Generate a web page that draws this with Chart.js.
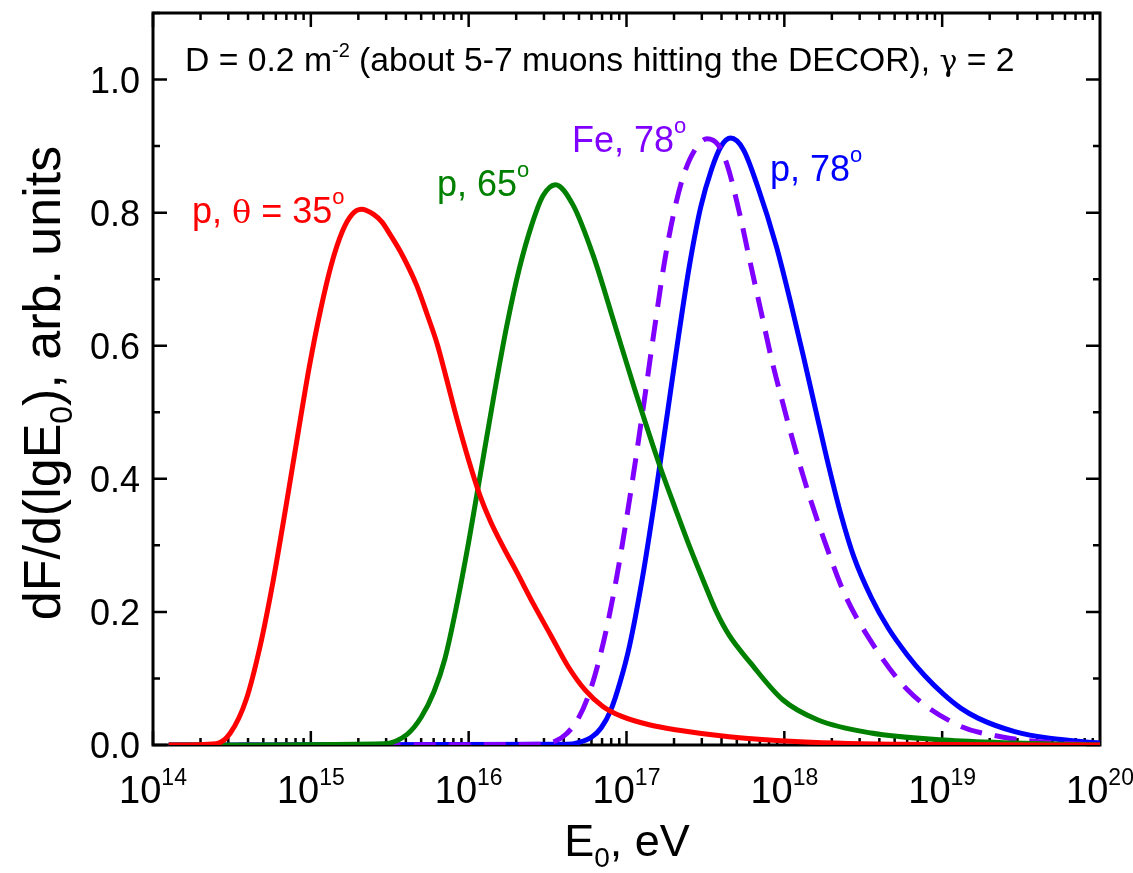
<!DOCTYPE html>
<html>
<head>
<meta charset="utf-8">
<script src="https://cdn.jsdelivr.net/npm/chart.js@4.4.1/dist/chart.umd.min.js"></script>
<style>
  html, body { margin: 0; padding: 0; background: #fff; }
  #wrap { width: 1133px; height: 873px; }
</style>
</head>
<body>
<div id="wrap"><canvas id="c" width="1133" height="873"></canvas></div>
<script>
// lg(E0) positions and dF/d(lgE0) values

// p, theta = 35 deg
const redLg = [14.10, 14.40, 14.49, 14.59, 14.68, 14.76, 14.84, 14.92, 14.99, 15.06, 15.13, 15.20, 15.26, 15.32, 15.40, 15.45, 15.50, 15.58, 15.67, 15.74, 15.80, 15.86, 15.92, 16.00, 16.07, 16.14, 16.22, 16.30, 16.41, 16.52, 16.63, 16.74, 16.85, 16.97, 17.15, 17.31, 17.65, 18.10, 18.78, 20.0];
const redY  = [0, 0.002, 0.018, 0.068, 0.150, 0.245, 0.355, 0.470, 0.568, 0.652, 0.722, 0.772, 0.797, 0.805, 0.797, 0.786, 0.768, 0.736, 0.691, 0.645, 0.603, 0.550, 0.495, 0.428, 0.376, 0.335, 0.297, 0.262, 0.212, 0.165, 0.118, 0.082, 0.058, 0.043, 0.030, 0.023, 0.0125, 0.005, 0.001, 0];

// p, 65 deg
const greenLg = [14.10, 15.46, 15.61, 15.70, 15.78, 15.85, 15.92, 16.00, 16.08, 16.16, 16.24, 16.32, 16.40, 16.47, 16.55, 16.66, 16.79, 16.92, 17.05, 17.21, 17.31, 17.40, 17.49, 17.57, 17.65, 17.78, 17.99, 18.21, 18.55, 19.01, 19.46, 20.0];
const greenY  = [0, 0.002, 0.016, 0.042, 0.080, 0.130, 0.205, 0.305, 0.415, 0.525, 0.628, 0.715, 0.782, 0.825, 0.842, 0.812, 0.735, 0.636, 0.536, 0.420, 0.355, 0.298, 0.245, 0.200, 0.165, 0.125, 0.068, 0.038, 0.018, 0.0075, 0.003, 0];

// p, 78 deg
const blueLg = [14.10, 16.62, 16.70, 16.78, 16.84, 16.90, 16.96, 17.02, 17.10, 17.18, 17.26, 17.33, 17.40, 17.47, 17.54, 17.60, 17.66, 17.74, 17.83, 17.95, 18.04, 18.12, 18.20, 18.28, 18.36, 18.44, 18.55, 18.66, 18.78, 18.89, 19.01, 19.12, 19.23, 19.46, 19.68, 20.0];
const blueY  = [0, 0.001, 0.004, 0.012, 0.026, 0.052, 0.095, 0.150, 0.250, 0.370, 0.500, 0.615, 0.722, 0.808, 0.866, 0.900, 0.912, 0.895, 0.840, 0.749, 0.665, 0.585, 0.502, 0.420, 0.345, 0.283, 0.222, 0.175, 0.135, 0.104, 0.076, 0.055, 0.040, 0.020, 0.010, 0.003];

// Fe, 78 deg
const purpleLg = [14.10, 16.45, 16.55, 16.62, 16.69, 16.76, 16.82, 16.88, 16.94, 17.00, 17.06, 17.12, 17.18, 17.24, 17.30, 17.36, 17.43, 17.51, 17.58, 17.64, 17.72, 17.78, 17.85, 17.92, 17.99, 18.07, 18.16, 18.26, 18.38, 18.54, 18.78, 19.10, 19.38, 19.67, 20.0];
const purpleY  = [0, 0.001, 0.006, 0.017, 0.038, 0.075, 0.122, 0.182, 0.255, 0.340, 0.432, 0.530, 0.630, 0.725, 0.800, 0.855, 0.893, 0.911, 0.902, 0.870, 0.795, 0.729, 0.654, 0.579, 0.514, 0.444, 0.373, 0.303, 0.228, 0.159, 0.083, 0.030, 0.012, 0.004, 0];

const xDecades = [14, 15, 16, 17, 18, 19, 20];
const yTicks = [0.0, 0.2, 0.4, 0.6, 0.8, 1.0];
const yMinor = [0.1, 0.3, 0.5, 0.7, 0.9, 1.1];

const FONT = '"Liberation Sans", Arial, sans-serif';
const SERIF = '"DejaVu Serif", serif';

function toPoints(lg, ys) {
    return lg.map((l, i) => ({ x: Math.pow(10, l), y: ys[i] }));
}

function curve(label, lg, ys, color, dash) {
    return {
        label: label,
        data: toPoints(lg, ys),
        borderColor: color,
        borderWidth: 5,
        borderDash: dash || [],
        pointRadius: 0,
        fill: false,
        cubicInterpolationMode: 'monotone'
    };
}

// draw text made of parts with their own size and vertical shift
function richText(ctx, parts, x, y, align, color) {
    let w = 0;
    parts.forEach(p => {
        ctx.font = p.size + 'px ' + (p.family || FONT);
        p.w = ctx.measureText(p.t).width;
        w += p.w;
    });
    let cx = x;
    if (align === 'center') cx = x - w / 2;
    if (align === 'right') cx = x - w;
    ctx.fillStyle = color || '#000';
    ctx.textAlign = 'left';
    ctx.textBaseline = 'alphabetic';
    parts.forEach(p => {
        ctx.font = p.size + 'px ' + (p.family || FONT);
        ctx.fillText(p.t, cx, y + (p.dy || 0));
        cx += p.w;
    });
}

const axisDecor = {
    id: 'axisDecor',
    beforeDatasetsDraw(chart) {
        const ctx = chart.ctx;
        const a = chart.chartArea;
        const xs = chart.scales.x, ys = chart.scales.y;
        ctx.save();
        ctx.strokeStyle = '#000';
        ctx.lineWidth = 3;
        ctx.strokeRect(a.left, a.top, a.right - a.left, a.bottom - a.top);

        ctx.lineWidth = 2.5;
        ctx.beginPath();
        // x ticks, bottom and top, pointing inwards
        for (let d = 14; d < 20; d++) {
            for (let m = 1; m <= 9; m++) {
                const px = xs.getPixelForValue(m * Math.pow(10, d));
                const len = m === 1 ? 14 : 7;
                ctx.moveTo(px, a.bottom); ctx.lineTo(px, a.bottom - len);
                ctx.moveTo(px, a.top); ctx.lineTo(px, a.top + len);
            }
        }
        // y ticks, left and right
        yTicks.concat(yMinor).forEach(v => {
            const py = ys.getPixelForValue(v);
            const len = yTicks.includes(v) ? 14 : 7;
            ctx.moveTo(a.left, py); ctx.lineTo(a.left + len, py);
            ctx.moveTo(a.right, py); ctx.lineTo(a.right - len, py);
        });
        ctx.stroke();
        ctx.restore();
    },
    afterDraw(chart) {
        const ctx = chart.ctx;
        const xs = chart.scales.x, ys = chart.scales.y;
        ctx.save();

        // y tick labels
        yTicks.forEach(v => {
            const py = ys.getPixelForValue(v);
            richText(ctx, [{ t: v.toFixed(1), size: 36 }], 140, py + 13, 'right');
        });
        // x tick labels 10^n
        xDecades.forEach(d => {
            const px = xs.getPixelForValue(Math.pow(10, d));
            richText(ctx, [{ t: '10', size: 38 }, { t: String(d), size: 23, dy: -18 }], px, 803, 'center');
        });

        // axis titles
        richText(ctx, [{ t: 'E', size: 45 }, { t: '0', size: 28, dy: 11 }, { t: ', eV', size: 45 }], 627, 856, 'center');
        ctx.translate(60, 383);
        ctx.rotate(-Math.PI / 2);
        richText(ctx, [{ t: 'dF/d(lgE', size: 52 }, { t: '0', size: 32, dy: 12 }, { t: '), arb. units', size: 52 }], 0, 0, 'center');
        ctx.setTransform(1, 0, 0, 1, 0, 0);

        // annotations
        richText(ctx, [
            { t: 'D = 0.2 m', size: 33.7 }, { t: '-2', size: 20, dy: -14 },
            { t: ' (about 5-7 muons hitting the DECOR), ', size: 33.7 },
            { t: 'γ', size: 30, family: SERIF }, { t: ' = 2', size: 33.7 }
        ], 185, 71, 'left');

        richText(ctx, [
            { t: 'p, ', size: 36 }, { t: 'θ', size: 32, family: SERIF },
            { t: ' = 35', size: 36 }, { t: 'o', size: 22, dy: -19 }
        ], 192, 223, 'left', '#ff0000');
        richText(ctx, [{ t: 'p, 65', size: 36 }, { t: 'o', size: 22, dy: -19 }], 437, 196, 'left', '#008000');
        richText(ctx, [{ t: 'Fe, 78', size: 36 }, { t: 'o', size: 22, dy: -19 }], 572, 152, 'left', '#8000ff');
        richText(ctx, [{ t: 'p, 78', size: 36 }, { t: 'o', size: 22, dy: -19 }], 770, 181, 'left', '#0000ff');

        ctx.restore();
    }
};

new Chart(document.getElementById('c'), {
    type: 'line',
    data: {
        datasets: [
            curve('p, 35', redLg, redY, '#ff0000'),
            curve('p, 65', greenLg, greenY, '#008000'),
            curve('Fe, 78', purpleLg, purpleY, '#8000ff', [22, 13]),
            curve('p, 78', blueLg, blueY, '#0000ff')
        ]
    },
    options: {
        responsive: false,
        animation: false,
        layout: { padding: { left: 153, right: 33, top: 13, bottom: 128 } },
        plugins: {
            legend: { display: false },
            tooltip: { enabled: false }
        },
        scales: {
            x: { type: 'logarithmic', min: 1e14, max: 1e20, display: false },
            y: { type: 'linear', min: 0, max: 1.1, display: false }
        }
    },
    plugins: [axisDecor]
});
</script>
</body>
</html>
